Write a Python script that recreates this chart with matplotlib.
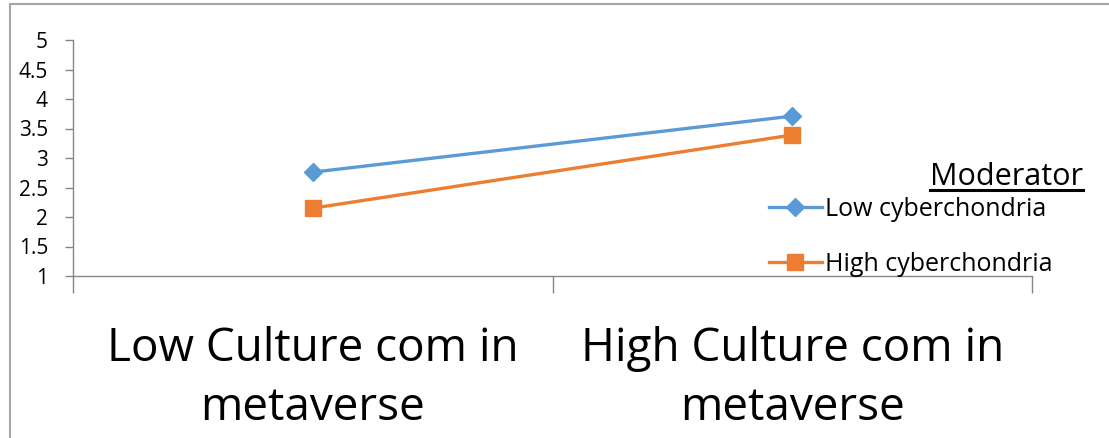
import numpy as np
import matplotlib
matplotlib.use("Agg")
from matplotlib import pyplot as plt
from matplotlib.lines import Line2D
from matplotlib.patches import Rectangle

plt.rcParams['font.family'] = ['Open Sans', 'DejaVu Sans']

# data: simple slopes for the moderator levels
categories = ["Low Culture com in\nmetaverse", "High Culture com in\nmetaverse"]
low_cyber = [2.76, 3.71]
high_cyber = [2.15, 3.39]
series_names = ["Low cyberchondria", "High cyberchondria"]
legend_title = "Moderator"

blue = '#5B9BD5'
orange = '#ED7D31'
grey = '#868686'

W, H = 1109, 438
fig = plt.figure(figsize=(W / 100, H / 100), dpi=100)

# chart frame (runs off the right and bottom edge)
fig.add_artist(Rectangle((10 / W, -0.2), 1.2, 1.2 - 4 / H, transform=fig.transFigure,
                         fill=False, edgecolor='#a6a6a6', lw=1.5))

ax = fig.add_axes([73 / W, 1 - 276 / H, (1032 - 73) / W, (276 - 40) / H])

x = np.arange(len(categories))
l1, = ax.plot(x, low_cyber, color=blue, lw=2.4, marker='D', markersize=9.5,
              label=series_names[0])
l2, = ax.plot(x, high_cyber, color=orange, lw=2.4, marker='s', markersize=11,
              label=series_names[1])

ax.set_xlim(-0.5, 1.5)
ax.set_ylim(1, 5)
ax.set_yticks(np.arange(1, 5.01, 0.5))
ax.set_yticklabels(['1', '1.5', '2', '2.5', '3', '3.5', '4', '4.5', '5'])
ax.set_xticks(x)
ax.set_xticklabels(categories, fontsize=33, linespacing=1.38)
ax.set_xticks([-0.5, 0.5, 1.5], minor=True)

for s in ['top', 'right']:
    ax.spines[s].set_visible(False)
for s in ['left', 'bottom']:
    ax.spines[s].set_color(grey)
    ax.spines[s].set_linewidth(1.0)

ax.tick_params(axis='y', length=6, width=1, color=grey, labelsize=15, pad=12)
ax.tick_params(axis='x', which='major', length=0, pad=36)
ax.tick_params(axis='x', which='minor', length=12, width=1, color=grey)

leg = ax.legend(handles=[l1, l2], loc='upper left', frameon=False,
                bbox_to_anchor=(769 / W, 1 - 197 / H), bbox_transform=fig.transFigure,
                fontsize=18, handlelength=2.1, handletextpad=0.15, labelspacing=1.2,
                borderpad=0, borderaxespad=0)

title = fig.text(1083 / W, 1 - 185 / H, legend_title, fontsize=22, ha='right', va='baseline')

# underline the legend title
fig.canvas.draw()
bb = title.get_window_extent().transformed(fig.transFigure.inverted())
fig.add_artist(Line2D([bb.x0, bb.x1], [1 - 190 / H, 1 - 190 / H],
                      transform=fig.transFigure, color='black', lw=2.2))

fig.savefig('out.png', dpi=100)
